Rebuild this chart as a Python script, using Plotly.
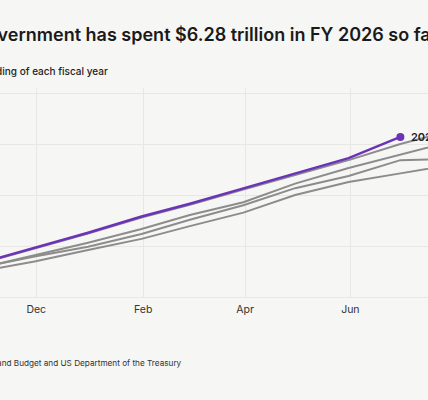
import plotly.graph_objs as go

# month-end dates, cumulative outlays in trillions of dollars
months = ['2025-10-31', '2025-11-30', '2025-12-31', '2026-01-31', '2026-02-28', '2026-03-31',
          '2026-04-30', '2026-05-31', '2026-06-30', '2026-07-31', '2026-08-31', '2026-09-30']

fy2026 = [1.36, 1.92, 2.52, 3.16, 3.66, 4.26, 4.86, 5.45, 6.28]
fy2025 = [1.33, 1.89, 2.49, 3.12, 3.62, 4.22, 4.80, 5.37, 6.00, 6.55, 7.01, 7.45]
fy2024 = [1.16, 1.65, 2.13, 2.67, 3.22, 3.72, 4.45, 5.06, 5.61, 6.16, 6.75, 7.20]
fy2023 = [1.18, 1.59, 1.97, 2.47, 3.03, 3.60, 4.27, 4.75, 5.37, 5.42, 6.10, 6.60]
fy2022 = [1.02, 1.39, 1.84, 2.28, 2.78, 3.31, 4.00, 4.51, 4.85, 5.20, 5.70, 6.20]

past_years = {'2022': fy2022, '2023': fy2023, '2024': fy2024, '2025': fy2025}

BG = '#f6f6f4'
GRID = '#e7e7e4'
PURPLE = '#6b34b8'
GRAY = '#8c8c8c'
FONT = 'Inter, Roboto, sans-serif'

W, H = 428, 400
TOP, BOTTOM = 88, 297


def px_x(x):
    return x / W


def px_y(y):
    return (BOTTOM - y) / (BOTTOM - TOP)


traces = []
for year, values in past_years.items():
    traces.append(go.Scatter(x=months[:len(values)], y=values, name=year, mode='lines',
                             line=dict(color=GRAY, width=2), hoverinfo='skip'))

traces.append(go.Scatter(x=months[:len(fy2026)], y=fy2026, name='2026', mode='lines',
                         line=dict(color=PURPLE, width=2.5), hoverinfo='skip'))
traces.append(go.Scatter(x=[months[len(fy2026) - 1]], y=[fy2026[-1]], mode='markers',
                         marker=dict(color=PURPLE, size=8), hoverinfo='skip'))

annotations = [
    dict(text='The federal government has spent $6.28 trillion in FY 2026 so far',
         xref='paper', yref='paper', x=px_x(440), y=px_y(35), xanchor='right', yanchor='middle',
         showarrow=False, font=dict(family=FONT, size=18, color='#1a1a1a', weight=600)),
    dict(text='Cumulative federal spending of each fiscal year',
         xref='paper', yref='paper', x=px_x(110), y=px_y(71), xanchor='right', yanchor='middle',
         showarrow=False, font=dict(family=FONT, size=10, color='#222222', weight=500)),
    dict(text='Source: Office of Management and Budget and US Department of the Treasury',
         xref='paper', yref='paper', x=px_x(184), y=px_y(363), xanchor='right', yanchor='middle',
         showarrow=False, font=dict(family=FONT, size=8.2, color='#333333')),
    dict(text='2026', x=months[len(fy2026) - 1], y=fy2026[-1], xanchor='left', yanchor='middle',
         xshift=9, showarrow=False, font=dict(family=FONT, size=11, color='#222222', weight=600)),
]

layout = dict(
    width=W, height=H, autosize=False,
    margin=dict(l=0, r=0, t=TOP, b=H - BOTTOM, pad=0),
    paper_bgcolor=BG, plot_bgcolor=BG,
    showlegend=False,
    xaxis=dict(type='date', range=['2025-11-10', '2026-07-16'], tick0='2025-12-01', dtick='M2',
               tickformat='%b', showgrid=True, gridcolor=GRID, gridwidth=1, zeroline=False,
               showline=False, ticks='', ticklabelstandoff=4,
               tickfont=dict(family=FONT, size=10.5, color='#333333')),
    yaxis=dict(range=[0, 8.2], dtick=2, showgrid=True, gridcolor=GRID, gridwidth=1,
               zeroline=True, zerolinecolor=GRID, zerolinewidth=1, showticklabels=False, ticks=''),
    annotations=annotations,
)

fig = go.Figure(data=traces, layout=layout)
# the page's default body margin would shift the chart off the window corner
page_fix = "document.body.style.margin='0';document.body.style.background='%s';" % BG
fig.write_html('out.html', config={'displayModeBar': False}, post_script=page_fix)
